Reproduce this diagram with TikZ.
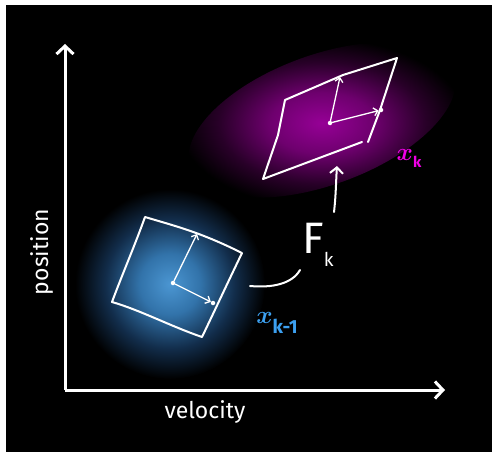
\documentclass[tikz,border=0pt]{standalone}
\usepackage{bm}
\usepackage{fontspec}
\setmainfont{Fira Sans}
\usetikzlibrary{arrows.meta}
\definecolor{gbA}{RGB}{75,150,210}
\definecolor{gbB}{RGB}{50,115,170}
\definecolor{gbC}{RGB}{18,45,75}
\definecolor{gpA}{RGB}{150,0,150}
\definecolor{gpB}{RGB}{110,0,110}
\definecolor{gpC}{RGB}{40,0,40}
\definecolor{lblblue}{RGB}{60,160,240}
\definecolor{lblmag}{RGB}{240,0,230}
\pgfdeclareradialshading{glowblue}{\pgfpoint{0bp}{0bp}}{color(0bp)=(gbA); color(8bp)=(gbB); color(17bp)=(gbC); color(25bp)=(black); color(50bp)=(black)}
\pgfdeclareradialshading{glowpurple}{\pgfpoint{0bp}{0bp}}{color(0bp)=(gpA); color(9bp)=(gpB); color(18bp)=(gpC); color(25bp)=(black); color(50bp)=(black)}
\newcommand{\xkmone}{{\fontsize{30}{30}\selectfont$\bm{x}$\raisebox{-10pt}{\bfseries\fontsize{19}{19}\selectfont k-1}}}
\newcommand{\xkone}{{\fontsize{25}{25}\selectfont$\bm{x}$\raisebox{-7pt}{\bfseries\fontsize{15}{15}\selectfont k}}}
\begin{document}
\begin{tikzpicture}[x=1pt,y=-1pt,
  wl/.style={white,line width=2pt,line cap=round,line join=round},
  thinl/.style={white,line width=1.3pt,line cap=round},
  axisl/.style={white,line width=3pt,-{Straight Barb[length=8pt,width=17pt]}},
  vec/.style={thinl,-{Straight Barb[length=4pt,width=8pt]}},
  dotn/.style={circle,fill=white,inner sep=0pt,minimum size=4.5pt},
  hand/.style={text=white,font=\fontsize{23}{23}\selectfont}]
\useasboundingbox (0,0) rectangle (492,452);
\fill[white] (0,0) rectangle (492,452);
\fill[black] (6,5) rectangle (492,452);

% glows
\shade[shading=glowblue] (170,284) circle (95);
\shade[shading=glowpurple, rotate around={20:(322,120)}] (322,120) ellipse [x radius=140, y radius=65];

% axes
\coordinate (O) at (65,390);
\coordinate (ytip) at (65,44);
\coordinate (xtip) at (445,390);
\draw[axisl] (O) -- (ytip);
\draw[axisl] (O) -- (xtip);
\node[hand, rotate=90] (pos) at (42,252) {position};
\node[hand] (vel) at (205,412) {velocity};

% blue square
\coordinate (b1) at (145,217);
\coordinate (b2) at (242,253);
\coordinate (b3) at (202,337);
\coordinate (b4) at (112,302);
\draw[wl] (b1) .. controls (175,226) and (200,232) .. (b2)
  .. controls (228,282) and (215,310) .. (b3)
  .. controls (170,326) and (140,310) .. (b4)
  .. controls (122,275) and (135,245) .. cycle;
\node[dotn] (bc) at (173,283) {};
\coordinate (bu) at (197,234);
\node[dotn] (br) at (213,303) {};
\draw[vec] (bc) -- (bu);
\draw[vec] (bc) -- (br);

% purple parallelogram
\coordinate (p1) at (285,100);
\coordinate (p2) at (397,58);
\coordinate (p3) at (368,142);
\coordinate (p4) at (362,142);
\coordinate (p5) at (263,179);
\draw[wl] (p3) -- (380,110) -- (p2) -- (343,75) -- (p1) -- (278,135) -- (p5) -- (p4);
\node[dotn] (pc) at (330,123) {};
\coordinate (pu) at (340,77);
\node[dotn] (pr) at (381,110) {};
\draw[vec] (pc) -- (pu);
\draw[vec] (pc) -- (pr);

% transition
\node[text=white, inner sep=0pt] (F) at (318,245) {\fontsize{44}{44}\selectfont F\raisebox{-13pt}{\fontsize{19}{19}\selectfont k}};
\coordinate (c1) at (250,286);
\coordinate (c2) at (300,270);
\draw[wl] (c1) .. controls (272,288) and (292,284) .. (c2);
\coordinate (c3) at (334,212);
\coordinate (c4) at (337,166);
\draw[wl,-{Straight Barb[length=6pt,width=13pt]}] (c3) .. controls (336,195) and (336,180) .. (c4);

% labels
\node[text=lblblue, inner sep=0pt] (xkm1) at (277,323) {\xkmone};
\node[text=lblmag, inner sep=0pt] (xk) at (409,158) {\xkone};
\end{tikzpicture}
\end{document}
